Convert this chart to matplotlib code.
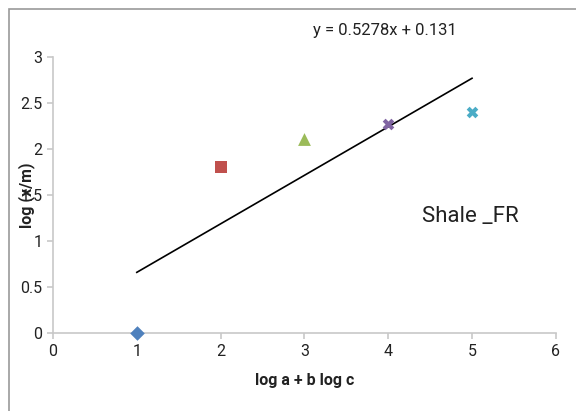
import numpy as np
import matplotlib.pyplot as plt
from matplotlib.patches import Rectangle

plt.rcParams['font.family'] = ['Roboto', 'DejaVu Sans']

# data
x_vals = [1, 2, 3, 4, 5]
y_vals = [0.0, 1.80, 2.11, 2.27, 2.40]
markers = ['D', 's', '^', 'X', 'X']
colors = ['#4F81BD', '#C0504D', '#9BBB59', '#8064A2', '#4BACC6']
sizes = [55, 75, 85, 70, 70]

slope, intercept = 0.5278, 0.131
trend_x = np.array([1, 5])

fig = plt.figure(figsize=(5.76, 4.11), dpi=100)
ax = fig.add_axes([0.092, 0.190, 0.873, 0.671])

for x, y, m, c, s in zip(x_vals, y_vals, markers, colors, sizes):
    ax.scatter(x, y, marker=m, color=c, s=s, linewidths=0, zorder=3, clip_on=False)

ax.plot(trend_x, slope * trend_x + intercept, color='black', linewidth=1.2, zorder=2)

ax.set_xlim(0, 6)
ax.set_ylim(0, 3)
ax.set_xticks(range(0, 7))
ax.set_yticks([0, 0.5, 1, 1.5, 2, 2.5, 3])
ax.set_yticklabels(['0', '0.5', '1', '1.5', '2', '2.5', '3'])

for side in ['top', 'right']:
    ax.spines[side].set_visible(False)
for side in ['left', 'bottom']:
    ax.spines[side].set_color('#c8c8c8')
    ax.spines[side].set_linewidth(1.2)
ax.tick_params(colors='#c8c8c8', labelcolor='#222222', labelsize=11.5, length=4, width=1.2)
ax.tick_params(axis='x', pad=4)

ax.set_xlabel('log a + b log c', fontsize=11.5, fontweight='bold', color='#222222')
ax.set_ylabel('log (x/m)', fontsize=11.5, fontweight='bold', color='#222222')
ax.xaxis.set_label_coords(0.5, -0.145)
ax.yaxis.set_label_coords(-0.036, 0.5)

fig.text(385 / 576, 1 - 30 / 411, 'y = 0.5278x + 0.131', fontsize=12, ha='center', va='center', color='#222222')
ax.text(4.4, 1.27, 'Shale _FR', fontsize=16, ha='left', va='center', color='#222222')

# outer frame of the original chart area
fig.patches.append(Rectangle((9 / 576, -0.05), 1.2, 1 - 9 / 411 + 0.05,
                             transform=fig.transFigure, fill=False,
                             edgecolor='#999999', linewidth=1.2))

fig.savefig('out.png', dpi=100)
